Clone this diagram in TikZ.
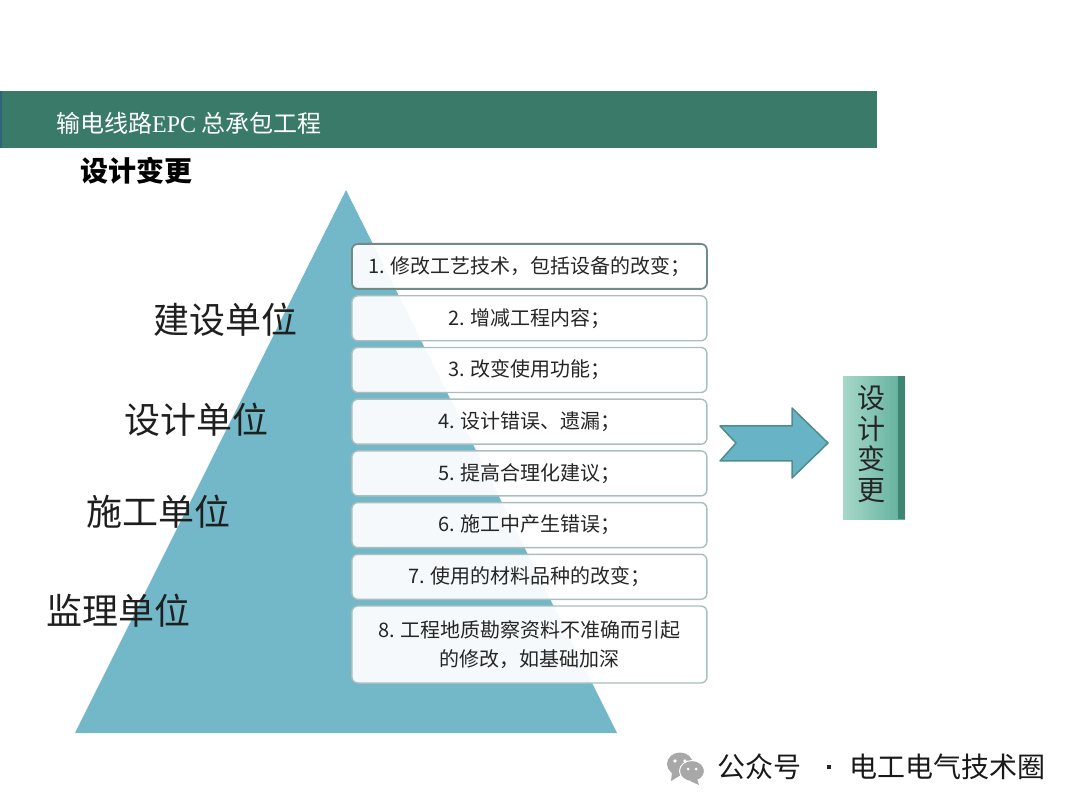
\documentclass[tikz,border=0pt]{standalone}
\usepackage{fontspec}
\usepackage{xcolor}
\usepackage{tikz}
\usetikzlibrary{shapes.geometric, positioning}
\setmainfont{Noto Sans CJK SC}
\newfontfamily\latinserif{Liberation Serif}
\definecolor{barGreen}{HTML}{3a7a68}
\definecolor{barEdge}{HTML}{2f6478}
\definecolor{pyramid}{HTML}{72b8c9}
\definecolor{itemEdge}{HTML}{a9bfbd}
\definecolor{itemDark}{HTML}{6f8a88}
\definecolor{tealLight}{HTML}{a6d8c9}
\definecolor{tealMid}{HTML}{5fae9b}
\definecolor{tealDark}{HTML}{3f8572}
\definecolor{arrowFill}{HTML}{68b3c6}
\definecolor{arrowEdge}{HTML}{4f8c8c}
\definecolor{iconGray}{HTML}{a8a8a8}
\newcommand{\fsize}[1]{\fontsize{#1}{#1}\selectfont}

\begin{document}
\begin{tikzpicture}[
  x=1pt, y=-1pt,
  node distance=5.3pt and 12pt,
  every node/.style={align=center, inner sep=0pt},
  item/.style={rectangle, draw=itemEdge, fill=white, fill opacity=0.93, text opacity=1,
    line width=1.4pt, rounded corners=6pt, minimum width=355pt, minimum height=45pt,
    font=\fsize{20}, text=black!85},
  org/.style={font=\fsize{36}, text=black!88},
  bubble/.style={ellipse, fill=iconGray},
  eye/.style={circle, fill=white, minimum size=3.6pt},
]
  \useasboundingbox (0,0) rectangle (1080,810);

  % header bar
  \node[rectangle, fill=barGreen, minimum width=877pt, minimum height=57pt, anchor=north west] (bar) at (0,91) {};
  \node[rectangle, fill=barEdge, minimum width=2pt, minimum height=57pt, anchor=west] (barleft) at (bar.west) {};
  \node[anchor=west, text=white, font=\fsize{24}] (head) at (56,123) {输电线路{\latinserif EPC} 总承包工程};
  \node[font=\fsize{28}\bfseries, text=black] (title) at (136,171) {设计变更};

  % pyramid
  \fill[pyramid] (346,190) -- (617,733) -- (75,733) -- cycle;

  % items
  \node[item, draw=itemDark, line width=1.8pt, anchor=north west] (s1) at (351,243) {1. 修改工艺技术，包括设备的改变；};
  \node[item, below=of s1] (s2) {2. 增减工程内容；};
  \node[item, below=of s2] (s3) {3. 改变使用功能；};
  \node[item, below=of s3] (s4) {4. 设计错误、遗漏；};
  \node[item, below=of s4] (s5) {5. 提高合理化建议；};
  \node[item, below=of s5] (s6) {6. 施工中产生错误；};
  \node[item, below=of s6] (s7) {7. 使用的材料品种的改变；};
  \node[item, below=of s7, minimum height=77pt, font=\fontsize{20}{29}\selectfont] (s8) {8. 工程地质勘察资料不准确而引起\\的修改，如基础加深};

  % left labels
  \node[org] (jianshe) at (225,320) {建设单位};
  \node[org] (sheji) at (196,420) {设计单位};
  \node[org] (shigong) at (158,512) {施工单位};
  \node[org] (jianli) at (118,611) {监理单位};

  % big arrow
  \draw[fill=arrowFill, draw=arrowEdge, line width=1.5pt, line join=round]
    (720,426) -- (792,426) -- (792,408) -- (828,443) -- (792,478) -- (792,461) -- (720,461) -- (736,443) -- cycle;

  % result box
  \node[rectangle, left color=tealLight, right color=tealMid, minimum width=62pt, minimum height=143pt, anchor=north west] (result) at (843,376) {};
  \node[rectangle, fill=tealDark, minimum width=7pt, minimum height=143pt, anchor=east] (band) at (result.east) {};
  \node[font=\fontsize{28}{30.5}\selectfont, text=black!85] (resulttext) at (871,444) {设\\计\\变\\更};

  % footer
  \node[bubble, minimum width=26pt, minimum height=23pt] (bubbleA) at (680,764) {};
  \fill[iconGray] (672,772) -- (671,781) -- (681,775) -- cycle;
  \node[eye] (eyeA) at (675,761) {};
  \node[eye] (eyeB) at (685,761) {};
  \node[bubble, draw=white, line width=1pt, minimum width=25pt, minimum height=21pt] (bubbleB) at (692,771) {};
  \fill[iconGray] (697,779) -- (699,785) -- (690,781) -- cycle;
  \node[eye, minimum size=3pt] (eyeC) at (688,769) {};
  \node[eye, minimum size=3pt] (eyeD) at (696,769) {};
  \node[anchor=west, font=\fsize{28}, text=black!90] (gzh) at (717,767) {公众号};
  \node[rectangle, fill=black!85, minimum size=4pt] (dot) at (829,767) {};
  \node[anchor=west, font=\fsize{28}, text=black!90] (brand) at (849,767) {电工电气技术圈};
\end{tikzpicture}
\end{document}
